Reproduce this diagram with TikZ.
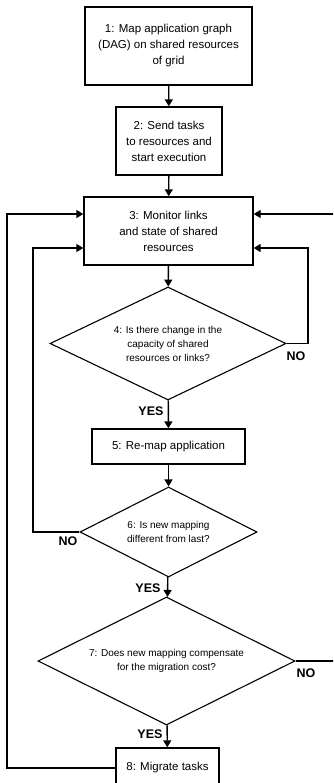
\documentclass[tikz,border=0pt]{standalone}
\usepackage{fontspec}
\setmainfont{Liberation Sans}
\usetikzlibrary{arrows.meta,shapes.geometric}
\tikzset{
    stepbox/.style={draw, line width=1.4pt, align=center, inner sep=0pt,
        font=\fontsize{11.5}{16}\selectfont},
    decision/.style={draw, diamond, line width=1.1pt, align=center, inner sep=0pt,
        font=\fontsize{10}{14}\selectfont},
    flow/.style={line width=1.4pt, -{Triangle[length=7pt,width=8pt]}},
    answer/.style={font=\fontsize{12.5}{14}\selectfont\bfseries},
}
\begin{document}
\begin{tikzpicture}[x=1pt,y=1pt]

            \useasboundingbox (0,0) rectangle (333,-783);
            \clip (0,0) rectangle (333,-783);

            \node[stepbox, minimum width=167pt, minimum height=78pt] (S1) at (168.5,-46)
                {1: Map application graph\\(DAG) on shared resources\\of grid};
            \node[stepbox, minimum width=106pt, minimum height=68pt] (S2) at (169,-141)
                {2: Send tasks\\to resources and\\start execution};
            \node[stepbox, minimum width=169pt, minimum height=68pt] (S3) at (168.5,-231)
                {3: Monitor links\\and state of shared\\resources};
            \node[decision, aspect=2.09, minimum width=236pt, minimum height=113pt] (S4) at (168,-343.5)
                {4: Is there change in the\\capacity of shared\\resources or links?};
            \node[stepbox, minimum width=153pt, minimum height=35pt] (S5) at (168.5,-446.5)
                {5: Re-map application};
            \node[decision, aspect=1.97, minimum width=177pt, minimum height=90pt] (S6) at (168.5,-532)
                {6: Is new mapping\\different from last?};
            \node[decision, aspect=2.0, minimum width=257pt, minimum height=128pt] (S7) at (166.5,-661)
                {7: Does new mapping compensate\\for the migration cost?};
            \node[stepbox, minimum width=103pt, minimum height=40pt] (S8) at (167.5,-768)
                {8: Migrate tasks};

            % loop corners
            \coordinate (R1) at (308,-248);
            \coordinate (R2) at (338,-214);
            \coordinate (L1) at (33,-248);
            \coordinate (L2) at (7,-214);

            \draw[flow] (S1) -- (S2);
            \draw[flow] (S2) -- (S3);
            \draw[flow] (S3) -- (S4);
            \draw[flow] (S4) -- (S5);
            \draw[flow] (S5) -- (S6);
            \draw[flow] (S6) -- (S7);
            \draw[flow] (S7) -- (S8);
            \draw[flow] (S4.east) -| (R1) -- (R1 -| S3.east);
            \draw[flow] (S6.west) -| (L1) -- (L1 -| S3.west);
            \draw[flow] (S7.east) -| (R2) -- (R2 -| S3.east);
            \draw[flow] (S8.west) -| (L2) -- (L2 -| S3.west);

            \node[answer] (no4) at (296,-356) {NO};
            \node[answer] (yes4) at (151,-411) {YES};
            \node[answer] (no6) at (68,-541) {NO};
            \node[answer] (yes6) at (148,-588) {YES};
            \node[answer] (no7) at (306,-673) {NO};
            \node[answer] (yes7) at (150,-734) {YES};
        \end{tikzpicture}
\end{document}
